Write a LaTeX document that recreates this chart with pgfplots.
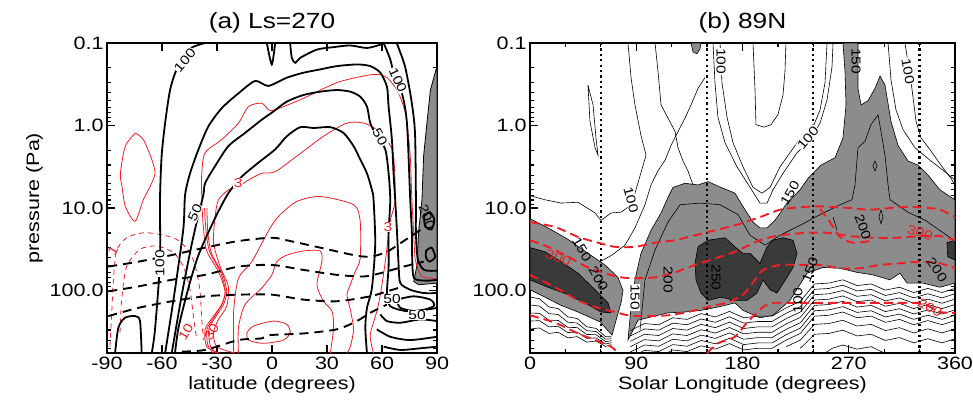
\documentclass[border=0pt]{standalone}
\usepackage{fontspec}
\setmainfont{Liberation Sans}[FakeStretch=1.2]
\usepackage{pgfplots}
\pgfplotsset{compat=1.18}
\definecolor{midgray}{RGB}{140,140,140}
\definecolor{dkgray}{RGB}{58,58,58}
\definecolor{cred}{RGB}{238,30,36}
\tikzset{lab/.style={font=\fontsize{13}{13}\selectfont, inner sep=0.6bp}}
\pgfplotsset{
  panel/.style={
    scale only axis, height=310bp,
    ymin=-1, ymax=2.757, y dir=reverse,
    ytick={-1,0,1,2}, yticklabels={0.1,1.0,10.0,100.0},
    minor ytick={-0.699,-0.523,-0.398,-0.301,-0.222,-0.155,-0.097,-0.046,0.301,0.477,0.602,0.699,0.778,0.845,0.903,0.954,1.301,1.477,1.602,1.699,1.778,1.845,1.903,1.954,2.301,2.477,2.602,2.699},
    axis line style={line width=1.6bp},
    tick style={black, line width=1.3bp},
    major tick length=8bp, minor tick length=4bp,
    tick align=inside,
    ticklabel style={font=\fontsize{18}{20}\selectfont},
    xlabel style={font=\fontsize{18}{20}\selectfont},
    ylabel style={font=\fontsize{18}{20}\selectfont},
    title style={font=\fontsize{22}{24}\selectfont},
    no markers,
  },
  bk/.style={black, line width=1.8bp, smooth, tension=0.45},
  rd/.style={cred, line width=0.8bp, smooth, tension=0.45},
  bkdash/.style={black, line width=1.9bp, dash pattern=on 9bp off 6bp, smooth, tension=0.45},
  rddash/.style={cred, line width=0.8bp, dash pattern=on 5bp off 4bp, smooth, tension=0.45},
  thn/.style={black, line width=0.6bp},
  rdthick/.style={cred, line width=1.9bp, dash pattern=on 9bp off 5bp, smooth, tension=0.45},
  dots/.style={black, line width=2.2bp, dash pattern=on 2.2bp off 3.2bp},
}
\begin{document}
\begin{tikzpicture}
\path[use as bounding box] (0,0) rectangle (973bp,409bp);

% ---------------- panel (a)
\begin{axis}[panel, at={(107bp,56bp)}, anchor=south west, width=330bp,
  xmin=-90, xmax=90, xtick={-90,-60,-30,0,30,60,90},
  xticklabels={-90,-60,-30,0,30,60,90},
  xlabel={latitude (degrees)}, ylabel={pressure (Pa)}, title={(a) Ls=270}]
% gray strip
\addplot[fill=midgray, draw=black, line width=0.8bp] coordinates {(90,-0.72)(86.4,-0.43)(84.5,-0.03)(82.7,0.37)(81.8,0.90)(80,1.28)(79.1,1.69)(77.3,1.89)(80,1.93)(90,1.91)} -- cycle;
% red thin contours
\addplot[rd] coordinates {(-28.3,2.76)(-35.6,2.68)(-36.5,2.47)(-31.9,2.31)(-27.4,2.17)(-25.6,2.01)(-29.2,1.77)(-35.6,1.52)(-37.4,1.24)(-38.3,0.90)(-38.3,0.58)(-36.5,0.33)(-27.4,0.17)(-18.3,-0.03)(-12.8,-0.23)(-5.6,-0.27)(-1.9,-0.19)(1.7,-0.19)(17.2,-0.33)(35.4,-0.52)(50,-0.60)(57.2,-0.62)(62.7,-0.58)(68.2,-0.43)(71.8,-0.23)(73.6,-0.03)(75.4,0.37)(76.3,0.90)(77.3,1.30)(78.2,1.63)(81.8,1.83)(90,1.85)};
\addplot[rd] coordinates {(-30,2.76)(-33.5,2.68)(-34.5,2.47)(-30.5,2.31)(-26.5,2.17)(-24.7,2.01)(-27,1.8)(-33,1.55)(-35,1.3)(-35.5,1.0)};
\addplot[rd] coordinates {(-32,2.76)(-35,2.66)(-35.5,2.47)(-31.2,2.31)(-27,2.15)(-25.5,2.0)(-28,1.78)(-34,1.53)(-36,1.28)(-36.8,1.0)};
\addplot[rd] coordinates {(-20.1,2.76)(-30.1,2.68)(-31.9,2.51)(-29.2,2.35)(-24.7,2.19)(-23.8,1.95)(-28.3,1.71)(-31.9,1.42)(-31,1.10)(-29.2,0.90)(-23.8,0.78)(-18.3,0.74)(-12.8,0.66)(-5.6,0.58)(1.7,0.56)(13.6,0.37)(28.1,0.13)(40.9,-0.03)(50,-0.03)(57.2,0.05)(62.7,0.17)(66.3,0.37)(67.2,0.90)(64.5,1.16)(61.8,1.65)(59.1,2.05)(57.2,2.25)(53.6,2.54)(55.4,2.76)};
\addplot[rd] coordinates {(-20.9,2.76)(-20.9,2.25)(-18.3,1.85)(-11,1.65)(-1,1.24)(4.5,1.08)(13.6,0.92)(26.3,0.86)(44.5,0.96)(48.1,1.16)(48.1,1.61)(45.4,1.77)(42.7,1.93)(40.9,2.05)(42.7,2.23)(44.5,2.47)(42.7,2.68)(40.9,2.76)};
\addplot[rd] coordinates {(-18.3,2.76)(-18.3,2.45)(-14.7,2.17)(-5.6,1.97)(-0.1,1.81)(2.6,1.65)(8.1,1.57)(17.2,1.52)(26.3,1.52)(27.2,1.65)(24.5,1.93)(28.1,2.13)(32.7,2.25)(33.6,2.45)(31.8,2.76)};
\addplot[rd] coordinates {(-13.7,2.51)(-10.1,2.43)(0.8,2.37)(8.1,2.41)(9.9,2.51)(6.3,2.60)(-4.6,2.64)(-12.8,2.60)(-13.7,2.51)};
\addplot[rd] coordinates {(-74.5,0.09)(-80,0.25)(-82.7,0.58)(-81.8,0.74)(-80,0.98)(-74.7,1.16)(-70.2,0.90)(-66.5,0.74)(-63.8,0.58)(-65.6,0.41)(-70.2,0.17)(-74.5,0.09)};
% red dashed
\addplot[rddash] coordinates {(-88.4,2.68)(-87.5,2.31)(-86.6,1.91)(-84.8,1.52)(-79.3,1.36)(-70.2,1.30)(-61.1,1.32)(-52,1.38)(-44.7,1.54)(-41,1.78)(-39.2,2.03)(-38.3,2.35)(-37.4,2.60)};
\addplot[rddash] coordinates {(-82.9,2.51)(-82,2.11)(-79.3,1.71)(-72,1.50)(-62.9,1.46)(-53.8,1.54)(-48.3,1.71)(-44.7,1.99)(-42.9,2.31)(-41,2.60)};
% black contours
\addplot[bk] coordinates {(-36.5,-1.0)(-45.6,-0.92)(-52,-0.68)(-55.6,-0.43)(-58.3,-0.03)(-60.2,0.37)(-61.1,0.90)(-61.1,1.65)(-63.8,2.47)(-65.6,2.76)};
\addplot[bk] coordinates {(-58.3,2.76)(-54.7,2.25)(-52,1.85)(-48.3,1.24)(-47.4,0.84)(-44.7,0.58)(-40.1,0.29)(-34.7,0.01)(-27.4,-0.21)(-18.3,-0.39)(-9.2,-0.54)(-2,-0.48)(8.1,-0.58)(17.2,-0.64)(26.3,-0.68)(35.4,-0.72)(46.3,-0.74)(53.6,-0.72)(59.1,-0.64)(62.7,-0.47)(63.6,-0.23)(65.4,0.17)(66.3,0.58)(67.2,0.90)(68.2,1.30)(69.1,1.71)(70,1.91)(75.4,1.99)(82.7,2.03)(90,2.03)};
\addplot[bk] coordinates {(-54.7,2.76)(-49.2,2.05)(-43.8,1.44)(-40.1,1.08)(-37.4,0.84)(-36.5,0.70)(-31,0.49)(-23.8,0.25)(-14.7,0.09)(-5.6,-0.07)(0.8,-0.17)(8.1,-0.29)(17.2,-0.37)(26.3,-0.41)(35.4,-0.43)(42.7,-0.41)(48.1,-0.35)(51.8,-0.23)(53.6,-0.03)(57.2,0.13)(61.8,0.29)(63.6,0.58)(64.5,0.90)(63.6,1.30)(63.6,1.71)(62.7,2.03)(64.5,2.19)(73.6,2.25)(84.5,2.23)(90,2.21)};
\addplot[bk] coordinates {(-52.9,2.76)(-51,2.45)(-45.6,1.97)(-40.1,1.57)(-31,1.12)(-23.8,0.82)(-16.5,0.62)(-7.4,0.45)(1.7,0.29)(8.1,0.13)(15.4,0.02)(22.7,0.03)(31.8,0.02)(39,0.09)(44.5,0.25)(48.1,0.41)(51.8,0.58)(54.5,0.78)(55.4,0.90)(56.3,1.44)(54.5,1.97)(51.8,2.21)(50.9,2.45)(51.8,2.76)};
\addplot[bk] coordinates {(60.9,-1)(64.5,-0.8)(67.2,-0.56)(70.9,-0.39)(73.6,-0.03)(75.4,0.90)(76.3,1.30)(76.5,1.63)(77.5,1.85)(84,1.88)(90,1.87)};
\addplot[bk] coordinates {(68,-1)(72.5,-0.72)(76,-0.31)(78,0.09)(78.5,0.90)(78.5,1.30)(79.5,1.62)(83,1.75)(90,1.76)};
\addplot[bk] coordinates {(9.9,-1)(10.8,-0.82)(12.7,-0.76)(15.4,-0.82)(24.5,-0.92)(33.6,-0.95)(42.7,-0.97)(51.8,-0.94)(59.1,-0.98)(60.9,-1)};
\addplot[bk] coordinates {(-2.8,-1)(-0.1,-0.74)(1.7,-1)};
\addplot[bk] coordinates {(-85.6,2.76)(-83.8,2.45)(-80.2,2.33)(-74.7,2.31)(-72,2.37)(-71.1,2.76)};
\addplot[bk] coordinates {(59.1,2.29)(62.7,2.37)(70,2.39)(80.9,2.35)(90,2.37)};
\addplot[bk] coordinates {(57.2,2.47)(64.5,2.56)(75.4,2.60)(90,2.56)};
\addplot[bk] coordinates {(60.9,2.68)(70,2.72)(80.9,2.70)(90,2.68)};
\addplot[bk] coordinates {(68.2,2.11)(77.3,2.07)(86.4,2.11)(88.2,2.19)(79.1,2.25)(70,2.21)(68.2,2.11)};
\addplot[bk] coordinates {(83,1.10)(86,1.05)(88.5,1.14)(87,1.26)(83.5,1.22)(83,1.10)};
\addplot[bk] coordinates {(84,1.52)(87,1.48)(89,1.59)(86,1.65)(84,1.60)(84,1.52)};
% black dashed
\addplot[bkdash] coordinates {(-89.3,1.71)(-72.9,1.65)(-54.7,1.57)(-36.5,1.48)(-18.3,1.40)(-0.1,1.36)(9.9,1.40)(26.3,1.48)(44.5,1.57)(53.6,1.59)(62.7,1.53)(71.8,1.40)(82.7,1.24)};
\addplot[bkdash] coordinates {(-89.3,2.01)(-72.9,1.95)(-54.7,1.87)(-36.5,1.81)(-18.3,1.71)(-0.1,1.69)(17.2,1.75)(35.4,1.81)(50,1.83)(59.1,1.79)(71.8,1.71)(82.7,1.65)};
\addplot[bkdash] coordinates {(-89.3,2.31)(-72.9,2.21)(-54.7,2.13)(-36.5,2.07)(-18.3,2.05)(-0.1,2.05)(17.2,2.11)(35.4,2.13)(53.6,2.07)(62.7,2.01)(71.8,1.95)};
\addplot[bkdash] coordinates {(-49.2,2.74)(-36.5,2.72)(-18.3,2.60)(-5.6,2.58)(-1,2.54)(17.2,2.52)(35.4,2.47)(46.3,2.37)(53.6,2.27)(62.7,2.17)};
% labels
\node[lab, fill=white, rotate=50] at (axis cs:-47.5,-0.79) {100};
\node[lab, fill=white, rotate=-65] at (axis cs:68.7,-0.55) {100};
\node[lab, fill=white, rotate=-60] at (axis cs:58.9,0.14) {50};
\node[lab, fill=white, rotate=65] at (axis cs:-42,1.06) {50};
\node[lab, fill=white, rotate=90] at (axis cs:-61.1,1.67) {100};
\node[lab, fill=white, text=cred] at (axis cs:-18.5,0.70) {3};
\node[lab, fill=white, text=cred] at (axis cs:63.3,1.23) {3};
\node[lab, text=cred, rotate=60] at (axis cs:-47,2.50) {10};
\node[lab, text=cred, rotate=60] at (axis cs:-33,2.50) {30};
\node[lab, text=cred, rotate=60] at (axis cs:-86.7,1.51) {1};
\node[lab, fill=white] at (axis cs:79.1,2.30) {50};
\node[lab, fill=white] at (axis cs:65.5,2.10) {50};
\node[lab, rotate=-70] at (axis cs:84.5,1.11) {200};
\end{axis}

% ---------------- panel (b)
\begin{axis}[panel, at={(530bp,56bp)}, anchor=south west, width=425bp,
  xmin=0, xmax=360, xtick={0,90,180,270,360}, xticklabels={0,90,180,270,360},
  minor xtick={30,60,120,150,210,240,300,330},
  xlabel={Solar Longitude (degrees)}, title={(b) 89N}]
% gray regions
\addplot[fill=midgray, draw=black, line width=0.6bp] coordinates {(0,1.13)(15.2,1.24)(32.2,1.38)(49.2,1.55)(63.5,1.69)(74.5,1.84)(78.8,2.00)(77.1,2.15)(72.9,2.36)(69.5,2.54)(59.3,2.38)(40.7,2.26)(26.3,2.18)(12.7,2.08)(0,1.99)} -- cycle;
\addplot[fill=dkgray, draw=black, line width=0.6bp] coordinates {(0,1.48)(12.7,1.53)(26.3,1.65)(40.7,1.79)(55.1,1.99)(66.1,2.15)(68.6,2.27)(60.1,2.26)(49.1,2.17)(32.2,2.05)(15.2,1.96)(0,1.87)} -- cycle;
\addplot[fill=midgray, draw=black, line width=0.6bp] coordinates {(83,2.60)(85.6,2.20)(88.9,1.87)(94,1.55)(102.5,1.27)(111,1.06)(116.9,0.87)(121.1,0.75)(131.3,0.70)(142.3,0.72)(150.8,0.68)(161.8,0.75)(173.6,0.82)(182.1,1.02)(188.9,1.17)(194.8,1.24)(200.8,1.24)(207.5,1.15)(217.7,0.94)(228.7,0.78)(235.5,0.64)(246.5,0.48)(258.4,0.39)(265.1,0.15)(267.7,-0.25)(266.8,-0.66)(265.1,-1)(277.8,-1)(277.8,-0.45)(280.4,-0.25)(286.3,-0.30)(292.2,-0.45)(296.5,-0.60)(300.7,-0.49)(305.8,-0.05)(311.7,0.24)(320.2,0.43)(328.7,0.48)(337.1,0.60)(347.3,0.78)(360,0.90)(360,1.91)(347.3,1.96)(332.9,1.91)(319.3,1.91)(313.4,1.79)(304.9,1.87)(290.5,1.81)(277,1.78)(262.6,1.73)(248.2,1.72)(234.6,1.79)(220.2,2.12)(205.8,2.30)(194.8,2.33)(180.4,2.24)(173.6,2.15)(159.2,2.20)(144.8,2.24)(131.3,2.26)(116.9,2.27)(102.5,2.32)(91.5,2.36)} -- cycle;
\addplot[fill=dkgray, draw=black, line width=0.6bp] coordinates {(142.3,1.47)(150.8,1.39)(165.2,1.36)(173.6,1.47)(180.4,1.55)(186.4,1.55)(194.8,1.67)(200.8,1.47)(205.8,1.39)(214.3,1.36)(222.8,1.39)(226.2,1.55)(222.8,1.72)(217.7,1.84)(209.2,2.03)(203.3,1.99)(197.4,1.87)(192.3,2.03)(183.8,2.12)(173.6,2.12)(161.8,2.08)(150.8,2.12)(144.8,2.03)(140.6,1.87)(139.8,1.67)} -- cycle;
\addplot[fill=dkgray, draw=black, line width=0.6bp] coordinates {(353.2,1.42)(360,1.39)(360,1.63)(353.8,1.59)} -- cycle;
\addplot[fill=midgray, draw=black, line width=0.6bp] coordinates {(136.4,-1)(138.1,-0.89)(141.5,-0.87)(144,-0.93)(144.8,-1)} -- cycle;
% thin contours
\addplot[thn] coordinates {(0,0.85)(12.7,0.90)(26.3,0.94)(40.7,0.93)(55.1,1.06)(60.1,1.15)(68.6,1.06)(77.1,1.05)(83,0.99)(88.9,0.82)(93.2,0.61)(98.3,0.36)(94,0.12)(88.9,-0.25)(85.6,-0.58)(83,-1)};
\addplot[thn] coordinates {(59.3,1.65)(69.5,1.57)(80.5,1.45)(88.9,1.24)(97.4,0.96)(102.5,0.72)(108.4,0.55)(114.4,0.42)(119.5,0.24)(125.5,0.07)(131.3,-0.09)(136.4,-0.25)(142.3,-0.45)(148.2,-0.58)};
\addplot[thn] coordinates {(105.9,-1)(108.4,-0.66)(111,-0.25)(116.9,-0.09)(122.8,0.07)(125.4,0.27)(129.6,0.43)(133.8,0.55)(138.1,0.72)};
\addplot[thn] coordinates {(49.1,-0.49)(53.4,-0.25)(55.9,0.15)(57.6,0.36)(55.1,0.27)(50.8,-0.05)(49.1,-0.49)};
\addplot[thn] coordinates {(155,-1)(156.7,-0.52)(159.2,-0.10)(165.2,0.21)(175.3,0.50)(186.4,0.75)(194.8,0.94)(200.8,0.94)(205.8,0.78)(214.3,0.58)(226.2,0.33)(237.2,0.18)(245.7,-0.03)(251.6,-0.31)(255.8,-0.71)(256.7,-1)};
\addplot[thn] coordinates {(161,-1)(162.6,-0.52)(166.9,-0.10)(172,0.21)(180.4,0.50)(188.9,0.75)(196.5,0.82)(203.3,0.75)(211.8,0.50)(226.2,0.21)(239.7,0.02)(245.7,-0.19)(249.9,-0.52)(251.6,-1)};
\addplot[thn] coordinates {(188.9,-1)(190.6,-0.43)(191.4,-0.01)(198.2,0.02)(204.1,-0.01)(210,-0.13)(214.3,-0.37)(216,-0.66)(216.8,-1)};
\addplot[thn] coordinates {(317.6,-1)(322.7,-0.54)(327,-0.05)(331.2,0.15)(339.7,0.31)(348.1,0.48)(356.6,0.64)(360,0.72)};
\addplot[thn] coordinates {(303.3,-1)(305.8,-0.55)(310,-0.19)(316,0.05)(326.1,0.27)(338.8,0.42)(351.5,0.56)(360,0.66)};
\addplot[thn] coordinates {(93.2,2.48)(97.4,1.87)(105.9,1.51)(116.9,1.17)(127.1,0.96)(144,0.94)(161,0.96)(176.2,1.08)(186.4,1.33)(199.1,1.45)(211.8,1.33)(228.7,1.21)(245.7,1.08)(262.6,0.96)(272.7,0.90)(275.3,0.72)(277.8,0.27)(283.8,0.19)(288.8,-0.01)(294.8,-0.13)(297.3,0.07)(300.7,0.36)(303.3,0.72)(305,0.90)(320,1.05)(335,1.15)(350,1.30)(360,1.40)};
\addplot[thn] coordinates {(256.7,1.11)(258.4,1.19)(260,1.27)(258.4,1.19)(256.7,1.11)};
\addplot[thn] coordinates {(297.3,1.02)(299,1.11)(297.3,1.19)(295.6,1.11)(297.3,1.02)};
\addplot[thn] coordinates {(292.2,0.43)(293.9,0.49)(292.2,0.55)(290.5,0.49)(292.2,0.43)};
% wiggly lower contours (left)
\addplot[thn] coordinates {(0,2.079)(8,2.099)(16,2.199)(24,2.219)(32,2.319)(40,2.339)(48,2.439)(56,2.459)(64,2.559)(69,2.56)};
\addplot[thn] coordinates {(0,2.176)(8,2.188)(16,2.279)(24,2.291)(32,2.383)(40,2.394)(48,2.486)(56,2.497)(64,2.589)(69,2.584)};
\addplot[thn] coordinates {(0,2.273)(8,2.276)(16,2.359)(24,2.363)(32,2.446)(40,2.449)(48,2.532)(56,2.535)(64,2.619)(69,2.608)};
\addplot[thn] coordinates {(0,2.37)(8,2.365)(16,2.44)(24,2.434)(32,2.509)(40,2.504)(48,2.579)(56,2.574)(64,2.648)(69,2.632)};
\addplot[thn] coordinates {(0,2.467)(8,2.453)(16,2.52)(24,2.506)(32,2.573)(40,2.559)(48,2.625)(56,2.612)(64,2.678)(69,2.656)};
% wiggly lower contours (middle/right)
\addplot[thn] coordinates {(85,2.485)(97,2.40)(109,2.415)(121,2.33)(133,2.35)(145,2.28)(157,2.32)(169,2.253)(181,2.33)(193,2.31)(205,2.31)(217,2.21)(229,2.13)(241,1.92)(253,1.91)(265,1.87)(277,1.94)(289,1.92)(301,1.995)(313,1.96)(325,2.024)(337,1.974)(349,2.024)(360,1.974)};
\addplot[thn] coordinates {(85,2.55)(97,2.465)(109,2.48)(121,2.395)(133,2.415)(145,2.345)(157,2.385)(169,2.318)(181,2.395)(193,2.375)(205,2.375)(217,2.275)(229,2.195)(241,1.985)(253,1.975)(265,1.935)(277,2.005)(289,1.985)(301,2.06)(313,2.025)(325,2.089)(337,2.039)(349,2.089)(360,2.039)};
\addplot[thn] coordinates {(85,2.615)(97,2.53)(109,2.545)(121,2.46)(133,2.48)(145,2.41)(157,2.45)(169,2.383)(181,2.46)(193,2.44)(205,2.44)(217,2.34)(229,2.26)(241,2.05)(253,2.04)(265,2.0)(277,2.07)(289,2.05)(301,2.125)(313,2.09)(325,2.154)(337,2.104)(349,2.154)(360,2.104)};
\addplot[thn] coordinates {(85,2.68)(97,2.595)(109,2.61)(121,2.525)(133,2.545)(145,2.475)(157,2.515)(169,2.448)(181,2.525)(193,2.505)(205,2.505)(217,2.405)(229,2.325)(241,2.115)(253,2.105)(265,2.065)(277,2.135)(289,2.115)(301,2.19)(313,2.155)(325,2.219)(337,2.169)(349,2.219)(360,2.169)};
\addplot[thn] coordinates {(85,2.745)(97,2.66)(109,2.675)(121,2.59)(133,2.61)(145,2.54)(157,2.58)(169,2.513)(181,2.59)(193,2.57)(205,2.57)(217,2.47)(229,2.39)(241,2.18)(253,2.17)(265,2.13)(277,2.2)(289,2.18)(301,2.255)(313,2.22)(325,2.284)(337,2.234)(349,2.284)(360,2.234)};
\addplot[thn] coordinates {(85,2.81)(97,2.725)(109,2.74)(121,2.655)(133,2.675)(145,2.605)(157,2.645)(169,2.578)(181,2.655)(193,2.635)(205,2.635)(217,2.535)(229,2.455)(241,2.245)(253,2.235)(265,2.195)(277,2.265)(289,2.245)(301,2.32)(313,2.285)(325,2.349)(337,2.299)(349,2.349)(360,2.299)};
\addplot[thn] coordinates {(85,2.875)(97,2.79)(109,2.805)(121,2.72)(133,2.74)(145,2.67)(157,2.71)(169,2.643)(181,2.72)(193,2.70)(205,2.70)(217,2.60)(229,2.52)(241,2.31)(253,2.30)(265,2.26)(277,2.33)(289,2.31)(301,2.385)(313,2.35)(325,2.414)(337,2.364)(349,2.414)(360,2.364)};
\addplot[thn] coordinates {(217,2.68)(229,2.60)(241,2.41)(253,2.40)(265,2.36)(277,2.43)(289,2.41)(301,2.485)(313,2.45)(325,2.514)(337,2.464)(349,2.514)(360,2.464)};
\addplot[thn] coordinates {(229,2.70)(241,2.53)(253,2.52)(265,2.48)(277,2.55)(289,2.53)(301,2.605)(313,2.57)(325,2.634)(337,2.584)(349,2.634)(360,2.584)};
\addplot[thn] coordinates {(250,2.757)(256,2.70)(265,2.66)(277,2.71)(289,2.68)(300,2.757)};
% dotted verticals
\addplot[dots] coordinates {(60,-1)(60,2.757)};
\addplot[dots] coordinates {(150,-1)(150,2.757)};
\addplot[dots] coordinates {(240,-1)(240,2.757)};
\addplot[dots] coordinates {(330,-1)(330,2.757)};
% red dashed
\addplot[rdthick] coordinates {(0,1.17)(21.2,1.23)(40.7,1.35)(55.1,1.41)(72,1.47)(88.9,1.47)(105.9,1.42)(122.8,1.39)(139.8,1.33)(156.7,1.27)(173.6,1.21)(194.8,1.11)(211.8,1.02)(228.7,0.99)(245.7,0.98)(271.1,1.00)(288,1.02)(313.4,0.99)(330.4,0.99)(347.3,1.02)(360,1.11)};
\addplot[rdthick] coordinates {(245.7,1.01)(254.1,1.17)(262.6,1.35)(273.6,1.42)(288,1.40)};
\addplot[rdthick] coordinates {(0,1.39)(15.2,1.47)(32.2,1.59)(49.1,1.72)(63.5,1.79)(77.1,1.84)(88.9,1.85)(105.9,1.84)(122.8,1.78)(139.8,1.69)(156.7,1.61)(173.6,1.53)(194.8,1.39)(211.8,1.33)(234.6,1.30)(251.6,1.30)(271.1,1.34)(290.5,1.36)(310.9,1.36)(330.4,1.34)(347.3,1.34)(360,1.39)};
\addplot[rdthick] coordinates {(0,1.81)(21.2,1.96)(40.7,2.12)(55.1,2.20)(72,2.26)(83,2.30)(97.4,2.31)(116.9,2.30)(133.8,2.26)(150.8,2.20)(167.7,2.14)(180.4,2.05)(190.6,1.87)(197.4,1.75)(211.8,1.69)(228.7,1.69)(245.7,1.69)(262.6,1.73)(279.5,1.73)(296.5,1.69)(313.4,1.67)(330.4,1.65)(347.3,1.67)(360,1.73)};
\addplot[rdthick] coordinates {(0,2.30)(21.2,2.39)(40.7,2.52)(55.1,2.60)(68.6,2.68)(74.5,2.76)};
\addplot[rdthick] coordinates {(149.9,2.76)(159.2,2.64)(173.6,2.56)(183.8,2.39)(197.4,2.20)(205.8,2.15)(220.2,2.15)(248.2,2.15)(277,2.15)(305,2.15)(327.8,2.15)(336.3,2.18)(347.3,2.26)(360,2.27)};
% labels
\node[lab, fill=white, rotate=-75] at (axis cs:85.6,0.90) {100};
\node[lab, fill=white, rotate=-90] at (axis cs:161.8,-0.78) {100};
\node[lab, fill=white, rotate=50] at (axis cs:235.5,0.15) {100};
\node[lab, rotate=-90] at (axis cs:276.1,-0.78) {150};
\node[lab, fill=white, rotate=-80] at (axis cs:320.2,-0.66) {100};
\node[lab, rotate=60] at (axis cs:220.2,0.82) {150};
\node[lab, rotate=-70] at (axis cs:282,1.23) {200};
\node[lab, text=cred, rotate=-15] at (axis cs:330.4,1.30) {300};
\node[lab, rotate=-55] at (axis cs:344.7,1.75) {200};
\node[lab, text=cred, rotate=-30] at (axis cs:338.8,2.21) {200};
\node[lab, rotate=70] at (axis cs:237.2,1.75) {150};
\node[lab, rotate=90] at (axis cs:227,2.12) {100};
\node[lab, rotate=-60] at (axis cs:44,1.50) {150};
\node[lab, rotate=-60] at (axis cs:58,1.86) {200};
\node[lab, text=cred, rotate=-20] at (axis cs:24,1.60) {300};
\node[lab, fill=white, rotate=-90] at (axis cs:88.9,2.08) {150};
\node[lab, rotate=-90] at (axis cs:116.9,1.87) {200};
\node[lab, rotate=-90] at (axis cs:157.6,1.84) {250};
\end{axis}
\end{tikzpicture}
\end{document}
